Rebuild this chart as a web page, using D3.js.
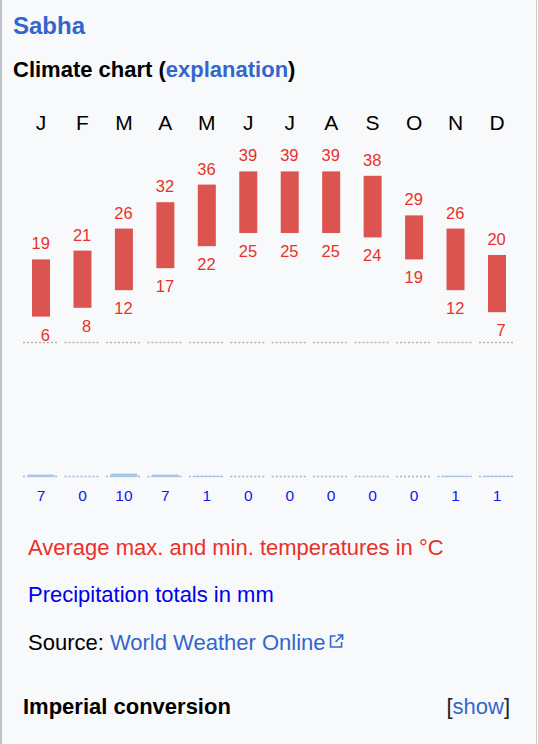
<!DOCTYPE html>
<html>
<head>
<meta charset="utf-8">
<script src="https://cdn.jsdelivr.net/npm/d3@7"></script>
<style>
  body { margin: 0; background: #fff; }
  svg { display: block; font-family: "Liberation Sans", Arial, Helvetica, sans-serif; }
</style>
</head>
<body>
<div id="chart"></div>
<script>
// climate data for Sabha
const months = ["J", "F", "M", "A", "M", "J", "J", "A", "S", "O", "N", "D"];
const tempMax = [19, 21, 26, 32, 36, 39, 39, 39, 38, 29, 26, 20];
const tempMin = [6, 8, 12, 17, 22, 25, 25, 25, 24, 19, 12, 7];
const precip = [7, 0, 10, 7, 1, 0, 0, 0, 0, 0, 1, 1];

const width = 538;
const height = 744;
const linkBlue = "#3366cc";
const tempRed = "#e8312a";
const precipBlue = "#1414f0";

const svg = d3.select("#chart")
  .append("svg")
  .attr("width", width)
  .attr("height", height);

// box background + side borders
svg.append("rect")
  .attr("x", 0).attr("y", 0)
  .attr("width", width).attr("height", height)
  .attr("fill", "#f8f9fa");
svg.append("line")
  .attr("x1", 1).attr("x2", 1).attr("y1", 0).attr("y2", height)
  .attr("stroke", "#c0c3c7").attr("stroke-width", 2);
svg.append("line")
  .attr("x1", 536.5).attr("x2", 536.5).attr("y1", 0).attr("y2", height)
  .attr("stroke", "#c8ccd1");

// headings
svg.append("text")
  .attr("x", 13).attr("y", 34)
  .attr("fill", linkBlue)
  .style("font-weight", "bold")
  .style("font-size", "24px")
  .text("Sabha");

const sub = svg.append("text")
  .attr("x", 13).attr("y", 77)
  .attr("fill", "#000")
  .style("font-weight", "bold")
  .style("font-size", "22px");
sub.append("tspan").text("Climate chart (");
sub.append("tspan").attr("fill", linkBlue).text("explanation");
sub.append("tspan").text(")");

// scales
const x = d3.scaleBand()
  .domain(d3.range(months.length))
  .range([20.3, 517.7]);

const yT = d3.scaleLinear()
  .domain([0, 40])
  .range([343, 167]);

const yP = d3.scaleLinear()
  .domain([0, 100])
  .range([476, 442]);

const cx = i => x(i) + x.bandwidth() / 2;
const segW = 36;

// month labels
svg.selectAll(".month")
  .data(months)
  .enter()
  .append("text")
  .attr("x", (d, i) => cx(i))
  .attr("y", 130)
  .attr("text-anchor", "middle")
  .style("font-size", "21px")
  .attr("fill", "#000")
  .text(d => d);

// zero lines (dotted)
svg.selectAll(".zeroT")
  .data(months)
  .enter()
  .append("line")
  .attr("x1", (d, i) => cx(i) - segW / 2)
  .attr("x2", (d, i) => cx(i) + segW / 2)
  .attr("y1", yT(0) - 0.5)
  .attr("y2", yT(0) - 0.5)
  .attr("stroke", "#c4b3a0")
  .attr("stroke-width", 1.6)
  .attr("stroke-dasharray", "2,2");

svg.selectAll(".zeroP")
  .data(months)
  .enter()
  .append("line")
  .attr("x1", (d, i) => cx(i) - segW / 2)
  .attr("x2", (d, i) => cx(i) + segW / 2)
  .attr("y1", yP(0) + 0.5)
  .attr("y2", yP(0) + 0.5)
  .attr("stroke", "#a3b4cc")
  .attr("stroke-width", 1.6)
  .attr("stroke-dasharray", "2,2");

// temperature bars
svg.selectAll(".tbar")
  .data(months)
  .enter()
  .append("rect")
  .attr("x", (d, i) => cx(i) - 9)
  .attr("width", 18)
  .attr("y", (d, i) => yT(tempMax[i]))
  .attr("height", (d, i) => yT(tempMin[i]) - yT(tempMax[i]))
  .attr("fill", "#dc5450");

// single digits sit right-aligned in a two digit slot
const digitW = 8.8;

svg.selectAll(".tmax")
  .data(tempMax)
  .enter()
  .append("text")
  .attr("x", (d, i) => cx(i) + digitW)
  .attr("y", d => yT(d) - 10)
  .attr("text-anchor", "end")
  .attr("fill", tempRed)
  .style("font-size", "16.5px")
  .text(d => d);

svg.selectAll(".tmin")
  .data(tempMin)
  .enter()
  .append("text")
  .attr("x", (d, i) => cx(i) + digitW)
  .attr("y", d => yT(d) + 24)
  .attr("text-anchor", "end")
  .attr("fill", tempRed)
  .style("font-size", "16.5px")
  .text(d => d);

// precipitation bars (thin sliver for tiny amounts)
const pIdx = d3.range(precip.length).filter(i => precip[i] > 0);
const pH = v => Math.max(1.2, yP(0) - yP(v));

svg.selectAll(".pbar")
  .data(pIdx)
  .enter()
  .append("rect")
  .attr("x", i => cx(i) - 13.5)
  .attr("width", 27)
  .attr("y", i => yP(0) + 1 - pH(precip[i]))
  .attr("height", i => pH(precip[i]))
  .attr("fill", "#a9c6e8");

svg.selectAll(".plabel")
  .data(precip)
  .enter()
  .append("text")
  .attr("x", (d, i) => cx(i))
  .attr("y", 501)
  .attr("text-anchor", "middle")
  .attr("fill", precipBlue)
  .style("font-size", "15.5px")
  .text(d => d);

// legend text
svg.append("text")
  .attr("x", 28).attr("y", 555)
  .attr("fill", tempRed)
  .style("font-size", "22px")
  .text("Average max. and min. temperatures in °C");

svg.append("text")
  .attr("x", 28).attr("y", 602)
  .attr("fill", "#0000ee")
  .style("font-size", "22px")
  .text("Precipitation totals in mm");

const src = svg.append("text")
  .attr("x", 28).attr("y", 650)
  .attr("fill", "#000")
  .style("font-size", "22px");
src.append("tspan").text("Source: ");
src.append("tspan").attr("fill", linkBlue).text("World Weather Online");

// external link icon
const srcW = src.node().getComputedTextLength();
const ix = 28 + srcW + 4, iy = 634;
const icon = svg.append("g")
  .attr("transform", "translate(" + ix + "," + iy + ")")
  .attr("fill", "none")
  .attr("stroke", linkBlue)
  .attr("stroke-width", 1.6);
icon.append("path").attr("d", "M6,2 H1 V13 H12 V8");
icon.append("path").attr("d", "M8,1 H13 V6 M13,1 L6,8");

svg.append("text")
  .attr("x", 23).attr("y", 714)
  .attr("fill", "#000")
  .style("font-weight", "bold")
  .style("font-size", "22px")
  .text("Imperial conversion");

const show = svg.append("text")
  .attr("x", 510).attr("y", 714)
  .attr("text-anchor", "end")
  .attr("fill", "#202122")
  .style("font-size", "22px");
show.append("tspan").text("[");
show.append("tspan").attr("fill", linkBlue).text("show");
show.append("tspan").text("]");
</script>
</body>
</html>
